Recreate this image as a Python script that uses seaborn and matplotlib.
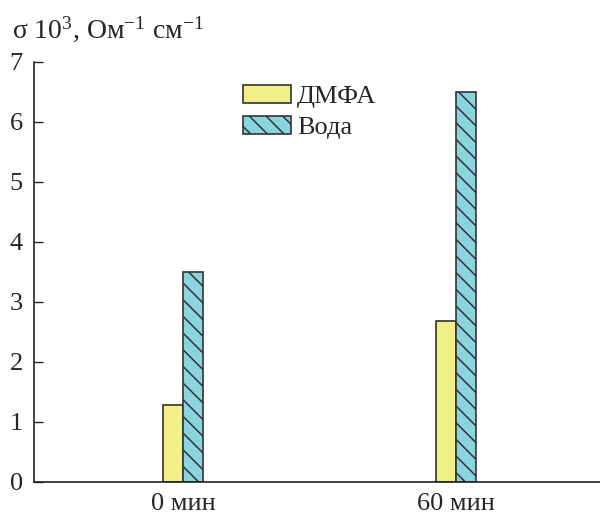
import pandas as pd
import seaborn as sns
import matplotlib.pyplot as plt

# values
times = ['0 мин', '60 мин']
solvents = ['ДМФА', 'Вода']
dmfa = [1.28, 2.68]
voda = [3.5, 6.5]

df = pd.DataFrame({
    'time': times * 2,
    'solvent': [solvents[0]] * 2 + [solvents[1]] * 2,
    'sigma': dmfa + voda,
})

sns.set_style('ticks')
plt.rcParams['font.family'] = ['Liberation Serif', 'DejaVu Serif']
plt.rcParams['mathtext.fontset'] = 'custom'
plt.rcParams['mathtext.rm'] = 'Liberation Serif'
plt.rcParams['mathtext.it'] = 'Liberation Serif:italic'
plt.rcParams['mathtext.default'] = 'rm'
plt.rcParams['hatch.linewidth'] = 1.1
plt.rcParams['hatch.color'] = '#222222'

fig = plt.figure(figsize=(6, 5.14), dpi=100)
ax = fig.add_axes([34/600, 32/514, 1 - 34/600, (482-62)/514])

pal = {'ДМФА': '#f1ef88', 'Вода': '#89d4de'}
sns.barplot(data=df, x='time', y='sigma', hue='solvent', palette=pal,
            width=0.147, edgecolor='#333333', linewidth=1.2, saturation=1,
            ax=ax)

# hatch the water bars
for bar in ax.containers[1]:
    bar.set_hatch('\\\\')

ax.set_xlim(-0.546, 1.527)
ax.set_ylim(0, 7)
ax.set_yticks(range(8))
ax.set_xlabel('')
ax.set_ylabel('')
ax.tick_params(axis='y', direction='in', length=6.5, width=1, pad=8, labelsize=19)
ax.tick_params(axis='x', length=0, pad=8, labelsize=19)
for s in ['top', 'right']:
    ax.spines[s].set_visible(False)
for s in ['left', 'bottom']:
    ax.spines[s].set_linewidth(1.2)
    ax.spines[s].set_color('#222222')

leg = ax.legend(frameon=False, fontsize=19, loc='upper left',
                bbox_to_anchor=(243/600, 1 - 85/514), bbox_transform=fig.transFigure,
                handlelength=1.8, handleheight=0.65, handletextpad=0.25,
                labelspacing=0.3, borderpad=0, borderaxespad=0)
for p in leg.get_patches():
    p.set_edgecolor('#333333')
    p.set_linewidth(1.2)
leg.get_patches()[1].set_hatch('\\\\')

fig.text(12/600, 1 - 38/514, r'σ 10$^3$, Ом$^{-1}$ см$^{-1}$', fontsize=20,
         ha='left', va='baseline')

fig.savefig('out.png', dpi=100)
